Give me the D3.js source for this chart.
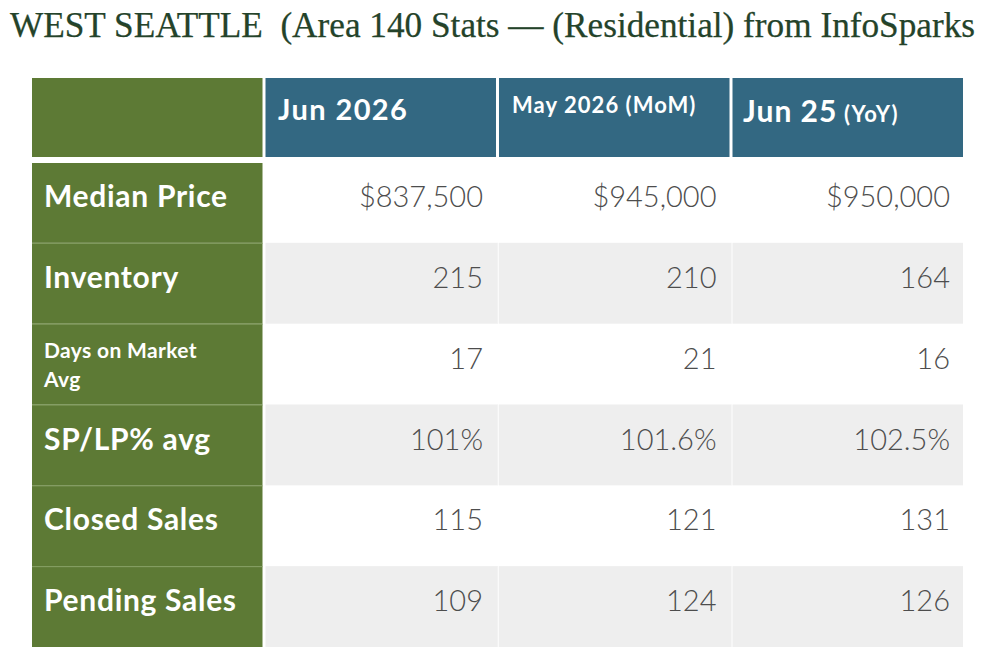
<!DOCTYPE html>
<html><head><meta charset="utf-8">
<script src="https://cdn.jsdelivr.net/npm/d3@7"></script>
<style>
html,body{margin:0;padding:0;background:#fff;}
svg{display:block;}
</style></head>
<body>
<svg id="chart" width="986" height="662"></svg>
<script>
const titleText = "WEST SEATTLE  (Area 140 Stats \u2014 (Residential) from InfoSparks";
const metrics = ["Median Price", "Inventory", "Days on Market|Avg", "SP/LP% avg", "Closed Sales", "Pending Sales"];
const columns = [
  {main: "Jun 2026", sub: ""},
  {main: "May 2026 (MoM)", sub: ""},
  {main: "Jun 25", sub: " (YoY)"}
];
const jun2026 = ["$837,500", "215", "17", "101%", "115", "109"];
const may2026 = ["$945,000", "210", "21", "101.6%", "121", "124"];
const jun2025 = ["$950,000", "164", "16", "102.5%", "131", "126"];
const seriesValues = [jun2026, may2026, jun2025];

const GREEN = "#5d7a35", BLUE = "#336882", GREY = "#eeeeee";
const SANS = "Lato, 'Noto Sans', sans-serif";
const svg = d3.select("#chart");

svg.append("text").attr("x", 10).attr("y", 37)
  .attr("font-family", "'Liberation Serif', 'Times New Roman', serif")
  .attr("font-size", 35).attr("fill", "#24432a")
  .attr("stroke", "#24432a").attr("stroke-width", 0.25)
  .attr("textLength", 965).attr("lengthAdjust", "spacingAndGlyphs")
  .attr("xml:space", "preserve")
  .text(titleText);

const x = d3.scaleBand().domain(d3.range(4)).range([32, 963]).paddingInner(3/233.5);
const y = d3.scaleBand().domain(d3.range(metrics.length)).range([162, 647]);

// header
svg.append("rect").attr("x", x(0)).attr("y", 78).attr("width", x.bandwidth()).attr("height", 79).attr("fill", GREEN);
columns.forEach((c, i) => {
  svg.append("rect").attr("x", x(i+1)).attr("y", 78).attr("width", x.bandwidth()).attr("height", 79).attr("fill", BLUE);
});
const hdrSize = [29, 22, 30];
const hdrSpacing = [1.4, 1.05, 1.0];
const hdrBase = [120, 113, 122];
const hdrPad = [12.5, 13, 10.5];
const hdr = svg.selectAll("text.hdr").data(columns).join("text").attr("class","hdr")
  .attr("x", (d,i) => x(i+1) + hdrPad[i])
  .attr("y", (d,i) => hdrBase[i])
  .attr("font-family", SANS).attr("font-weight", 700)
  .attr("fill", "#fff")
  .attr("letter-spacing", (d,i) => hdrSpacing[i])
  .attr("font-size", (d,i) => hdrSize[i]);
hdr.append("tspan").text(d => d.main);
hdr.append("tspan").attr("font-size", 22).attr("letter-spacing", 1.2).text(d => d.sub);

// row backgrounds
metrics.forEach((m, r) => {
  svg.append("rect").attr("x", x(0)).attr("y", y(r) + (r === 0 ? 1 : 0)).attr("width", x.bandwidth())
    .attr("height", y.bandwidth() - (r === 0 ? 1 : 0)).attr("fill", GREEN);
  if (r > 0) svg.append("line").attr("x1", x(0)).attr("x2", x(0) + x.bandwidth())
    .attr("y1", y(r) + 0.5).attr("y2", y(r) + 0.5).attr("stroke", "#87a065").attr("stroke-width", 1);
  if (r % 2 === 1) {
    for (let c = 1; c < 4; c++) {
      svg.append("rect").attr("x", x(c)).attr("y", y(r)).attr("width", x.bandwidth() + (c < 3 ? 2 : 0))
        .attr("height", y.bandwidth()).attr("fill", GREY);
    }
    for (let c = 2; c < 4; c++) {
      svg.append("line").attr("x1", x(c) - 1).attr("x2", x(c) - 1).attr("y1", y(r)).attr("y2", y(r) + y.bandwidth())
        .attr("stroke", "#f6f6f6").attr("stroke-width", 1);
    }
  }
});

// row labels
metrics.forEach((m, r) => {
  const parts = m.split("|");
  if (parts.length > 1) {
    const t = svg.append("text").attr("font-family", SANS).attr("font-weight", 700)
      .attr("fill", "#fff").attr("font-size", 21).attr("letter-spacing", 0.35);
    parts.forEach((p, k) => t.append("tspan").attr("x", 44).attr("y", y(r) + 34 + k * 29).text(p));
  } else {
    svg.append("text").attr("x", 44).attr("y", y(r) + 45)
      .attr("font-family", SANS).attr("font-weight", 700)
      .attr("letter-spacing", 0.7)
      .attr("fill", "#fff").attr("font-size", 30).text(m);
  }
});

// values
seriesValues.forEach((vals, c) => {
  svg.selectAll("text.v" + c).data(vals).join("text").attr("class", "v" + c)
    .attr("x", x(c+1) + x.bandwidth() - 13)
    .attr("y", (d, r) => y(r) + 45)
    .attr("text-anchor", "end")
    .attr("font-family", SANS).attr("font-weight", 300)
    .attr("fill", "#4d4d4d").attr("font-size", 29)
    .text(d => d);
});
</script>
</body></html>
